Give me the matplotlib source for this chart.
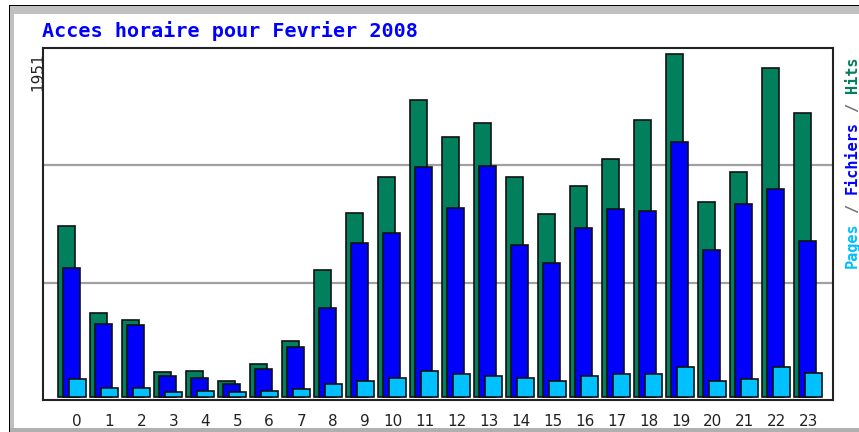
import matplotlib.pyplot as plt
import matplotlib.transforms as mtransforms
import numpy as np
from matplotlib.patches import Rectangle

hours = np.arange(24)
hits = [974, 477, 438, 141, 150, 93, 190, 321, 725, 1049, 1254, 1691,
        1480, 1558, 1252, 1042, 1203, 1357, 1577, 1951, 1108, 1279, 1873, 1617]
files = [733, 416, 408, 120, 110, 74, 158, 286, 505, 878, 935, 1309,
         1078, 1317, 867, 763, 962, 1069, 1059, 1452, 839, 1099, 1184, 888]
pages = [101, 53, 53, 27, 34, 27, 34, 44, 74, 93, 110, 150,
         131, 120, 110, 93, 120, 131, 131, 169, 93, 101, 169, 138]
hour_labels = [str(h) for h in hours]
max_label = str(max(hits))
title = "Acces horaire pour Fevrier 2008"

# couleurs webalizer
c_hits = '#00805C'
c_files = '#0000FF'
c_pages = '#00C0FF'

W, H = 859, 432
fig = plt.figure(figsize=(W / 100, H / 100), dpi=100)
fig.patch.set_facecolor('white')


def px_rect(x0, y0, x1, y1, color):
    # rectangle en pixels (origine en haut a gauche)
    fig.patches.append(Rectangle((x0 / W, 1 - y1 / H), (x1 - x0) / W, (y1 - y0) / H,
                                 transform=fig.transFigure, color=color, zorder=0, lw=0))


# cadre gris façon image GD
px_rect(9, 5, W, 14, '#C0C0C0')
px_rect(9, 5, 14, H, '#C0C0C0')
px_rect(9, 428, W, H, '#B0B0B0')
px_rect(9, 5, W, 6, '#000000')
px_rect(9, 5, 10, H, '#000000')

ax = fig.add_axes([43 / W, (H - 400) / H, 790 / W, 352 / H])
ax.set_facecolor('white')

y_top, y_bot = 1986, -17
ax.set_ylim(y_bot, y_top)
ax.set_xlim(-0.47, 24.22)

# lignes de grille a 1/3 et 2/3
for k in (1, 2):
    ax.axhline(y_bot + (y_top - y_bot) * k / 3, color='#A0A0A0', lw=1.6, zorder=1)

w = 0.53
ax.bar(hours, hits, width=w, align='edge', color=c_hits, edgecolor='#111111', lw=1.2, zorder=3)
ax.bar(hours + 0.17, files, width=w, align='edge', color=c_files, edgecolor='#111111', lw=1.2, zorder=4)
ax.bar(hours + 0.34, pages, width=w, align='edge', color=c_pages, edgecolor='#111111', lw=1.2, zorder=5)

ax.set_yticks([])
tick_pos = [h + (0.6 if h < 10 else 0.46) for h in hours]
ax.set_xticks(tick_pos)
ax.set_xticklabels(hour_labels, fontsize=11, color='#222222')
ax.tick_params(axis='x', length=0, pad=10)

for s in ax.spines.values():
    s.set_color('#222222')
    s.set_linewidth(1.5)

# titre
fig.text(42 / W, 1 - 37 / H, title, color='#0000FF', fontsize=14.5, fontweight='bold',
         family='DejaVu Sans Mono', ha='left', va='baseline')

# valeur max a gauche
fig.text(42 / W, 1 - 52 / H, max_label, rotation=90, rotation_mode='anchor',
         ha='right', va='baseline', fontsize=11, color='#222222')

# legende verticale a droite, morceau par morceau (police mono)
fs = 11
adv = 0.602 * fs  # avance d'un caractere en points
parts = [("Pages", c_pages, 0), ("/", '#707070', 6), ("Fichiers", c_files, 8),
         ("/", '#707070', 17), ("Hits", c_hits, 19)]
for txt, col, start in parts:
    tr = mtransforms.offset_copy(fig.transFigure, fig=fig, x=0, y=start * adv, units='points')
    fig.text(857 / W, 1 - 268 / H, txt, rotation=90, rotation_mode='anchor',
             ha='left', va='baseline', fontsize=fs, fontweight='bold',
             family='DejaVu Sans Mono', color=col, transform=tr)

fig.savefig('out.png', dpi=100)
